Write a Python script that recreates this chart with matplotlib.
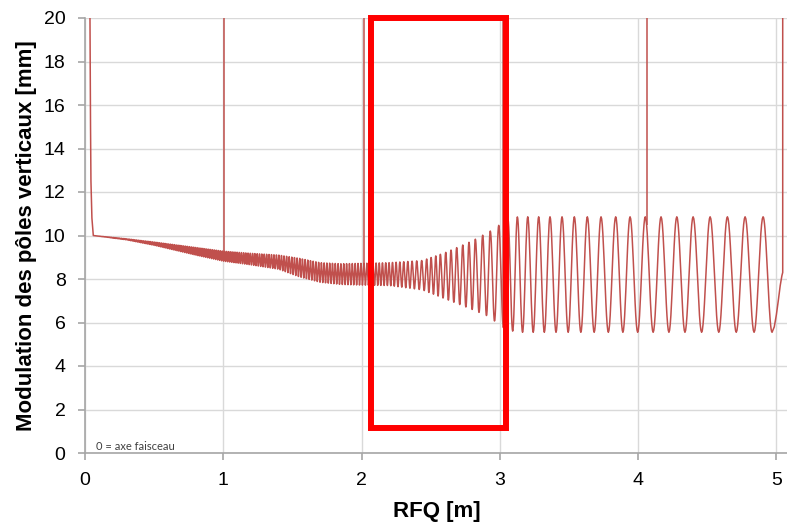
import numpy as np
import matplotlib
matplotlib.use("Agg")
import matplotlib.pyplot as plt
from matplotlib.patches import Rectangle

plt.rcParams['font.family'] = ['Liberation Sans', 'DejaVu Sans']

# entree (adaptateur radial)
z_entree = [0.036, 0.040, 0.043, 0.050, 0.060]
y_entree = [20.0, 15.0, 12.5, 10.8, 10.0]

# enveloppe de la modulation (haut / bas)
z_env = [0.06, 0.30, 0.50, 0.80, 1.00, 1.20, 1.40, 1.55, 1.70, 1.85, 2.00, 2.20,
         2.44, 2.60, 2.80, 2.93, 3.00, 3.06, 3.13, 4.97]
haut = [10.0, 9.85, 9.70, 9.45, 9.28, 9.18, 9.10, 8.95, 8.75, 8.70, 8.72, 8.75,
        8.85, 9.20, 9.75, 10.20, 10.50, 10.72, 10.86, 10.86]
bas = [10.0, 9.80, 9.55, 9.10, 8.82, 8.65, 8.45, 8.10, 7.85, 7.75, 7.72, 7.70,
       7.50, 7.10, 6.60, 6.25, 5.85, 5.65, 5.55, 5.55]

# periode (beta*lambda) dans la zone dense [m]
z_per = [0.06, 0.50, 1.00, 1.50, 2.00, 2.20, 2.35, 2.435]
periode = [0.011, 0.013, 0.0145, 0.019, 0.021, 0.024, 0.030, 0.036]

# sommets lisibles [m]
sommets = [2.435, 2.471, 2.503, 2.537, 2.570, 2.609, 2.647, 2.688, 2.732, 2.777,
           2.823, 2.876, 2.931, 2.992, 3.059, 3.127, 3.202, 3.281, 3.363, 3.450,
           3.539, 3.633, 3.732, 3.838, 3.942, 4.052, 4.166, 4.280, 4.398, 4.521,
           4.646, 4.774, 4.904]

# sortie
z_sortie = [4.969, 4.985, 5.000, 5.015, 5.028, 5.040, 5.046, 5.046]
y_sortie = [5.55, 5.80, 6.35, 7.05, 7.70, 8.15, 8.30, 20.0]

# pics verticaux (jonctions de sections)
pics = [1.005, 2.020, 3.020, 4.062]

# sommets de la zone dense, en remontant depuis le premier sommet lu
p = sommets[0]
avant = []
while True:
    p = p - np.interp(p, z_per, periode)
    if p < 0.06:
        break
    avant.append(p)
tous = np.array(avant[::-1] + sommets)

zz = [np.array([0.06])]
for a, b in zip(tous[:-1], tous[1:]):
    zz.append(np.linspace(a, b, 25)[1:])
zz = np.concatenate(zz)
ph = np.interp(zz, tous, np.arange(len(tous)))
ph[zz < tous[0]] = 0
h = np.interp(zz, z_env, haut)
b = np.interp(zz, z_env, bas)
yy = (h + b) / 2 + (h - b) / 2 * np.cos(2 * np.pi * ph)
# demi-periode finale jusqu'au creux
zf = np.linspace(tous[-1], z_sortie[0], 20)[1:]
yf = (haut[-1] + bas[-1]) / 2 + (haut[-1] - bas[-1]) / 2 * np.cos(np.pi * (zf - tous[-1]) / (z_sortie[0] - tous[-1]))

z = np.concatenate([z_entree[:-1], zz, zf, z_sortie[1:]])
y = np.concatenate([y_entree[:-1], yy, yf, y_sortie[1:]])

fig = plt.figure(figsize=(7.87, 5.24), dpi=100)
ax = fig.add_axes([85 / 787, 71 / 524, 702 / 787, 435 / 524])

rouge = "#c0504d"
ax.plot(z, y, color=rouge, lw=1.1)
for s in pics:
    ax.vlines(s, np.interp(s, z, y), 20, color=rouge, lw=1.1)

ax.set_xlim(0, 5.077)
ax.set_ylim(0, 20)
ax.set_xticks([0, 1, 2, 3, 4, 5])
ax.set_yticks(np.arange(0, 21, 2))
ax.grid(True, color="#d9d9d9", lw=1)
ax.set_axisbelow(True)
for s in ["top", "right"]:
    ax.spines[s].set_visible(False)
for s in ["left", "bottom"]:
    ax.spines[s].set_color("#a6a6a6")
    ax.spines[s].set_linewidth(1.2)
ax.tick_params(axis="both", colors="#a6a6a6", labelcolor="black", labelsize=14,
               length=5, width=1.2, direction="out", pad=9)

ax.set_xlabel("RFQ [m]", fontsize=16, fontweight="bold", va="top")
ax.xaxis.set_label_coords(0.501, -0.111)
ax.set_ylabel("Modulation des pôles verticaux [mm]", fontsize=16, fontweight="bold")
ax.yaxis.set_label_coords(-0.068, 0.499)

ax.text(0.077, 0.12, "0 = axe faisceau", fontsize=8, color="#404040", family=["Lato", "DejaVu Sans"])

ax.add_patch(Rectangle((2.065, 1.13), 3.047 - 2.065, 20.0 - 1.13, fill=False,
                       edgecolor="#ff0000", lw=4.3, joinstyle="miter", clip_on=False, zorder=5))

fig.savefig("out.png", dpi=100)
